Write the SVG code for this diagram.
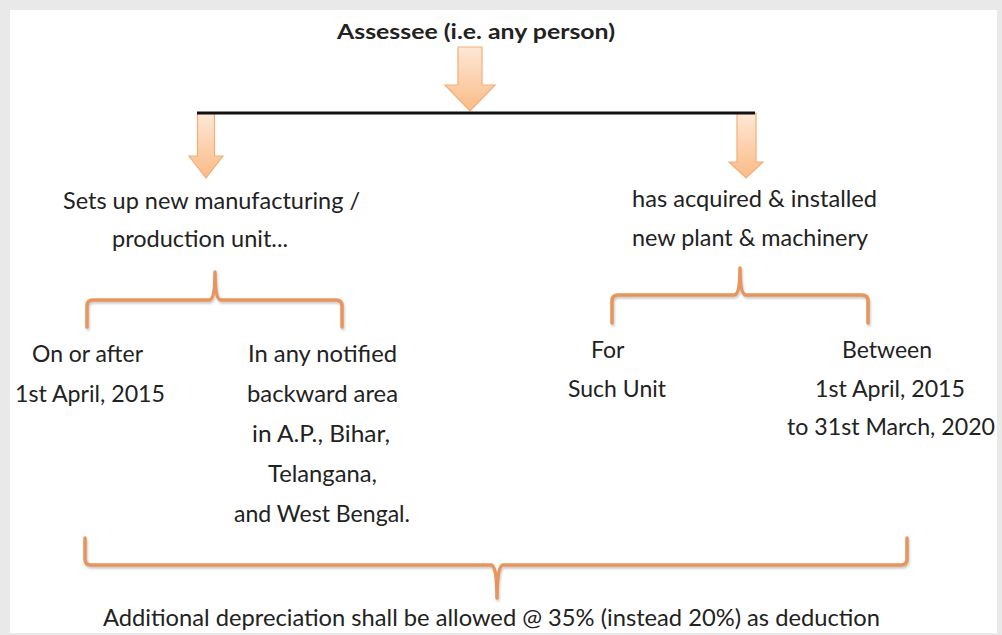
<svg xmlns="http://www.w3.org/2000/svg" width="1002" height="635" viewBox="0 0 1002 635">
<style>
  .t { font-family: Lato, "Open Sans", "Liberation Sans", sans-serif; font-size: 23px; fill: #222222; }
  .b { font-weight: bold; font-size: 20px; }
  .brace { fill: none; stroke: #e8955c; stroke-width: 3.5; stroke-linecap: round; stroke-linejoin: round; filter: url(#sh); }
  .arrow { fill: url(#ag); stroke: #f3ad78; stroke-width: 1.2; }
</style>
<defs>
  <linearGradient id="ag" x1="0" y1="0" x2="0" y2="1">
    <stop offset="0" stop-color="#fde8d6"/>
    <stop offset="1" stop-color="#fbbb86"/>
  </linearGradient>
  <filter id="sh" x="-5%" y="-30%" width="110%" height="160%">
    <feDropShadow dx="1" dy="2" stdDeviation="1.2" flood-color="#8a8a8a" flood-opacity="0.45"/>
  </filter>
</defs>
<rect x="0" y="0" width="1002" height="635" fill="#e9e9e9"/>
<rect x="10" y="10" width="987" height="623" fill="#ffffff"/>

<g id="connectors">
  <path class="arrow" d="M458,47 L482,47 L482,85 L495,85 L470,111 L445,85 L458,85 Z"/>
  <path class="arrow" d="M197.5,113 L214.5,113 L214.5,156 L223,156 L206,178 L189,156 L197.5,156 Z"/>
  <path class="arrow" d="M737,113 L756,113 L756,162 L763,162 L746,178 L729,162 L737,162 Z"/>
  <line x1="197" y1="113" x2="755" y2="113" stroke="#111" stroke-width="3"/>
  <path class="brace" d="M87,327 L87,306 Q87,300 93,300 L209,300 Q215,300 215,272 Q215,300 221,300 L336,300 Q342,300 342,306 L342,327"/>
  <path class="brace" d="M612,323 L612,301 Q612,295 618,295 L734,295 Q740,295 740,268 Q740,295 746,295 L862,295 Q868,295 868,301 L868,323"/>
  <path class="brace" d="M85,538 L85,559 Q85,565 91,565 L491,565 Q497,565 497,598 Q497,565 503,565 L901,565 Q907,565 907,559 L907,538"/>
</g>

<g id="assessee">
  <text class="t b" x="337" y="39" textLength="278" lengthAdjust="spacingAndGlyphs">Assessee (i.e. any person)</text>
</g>
<g id="new-unit">
  <text class="t" x="63" y="209" textLength="297" lengthAdjust="spacingAndGlyphs">Sets up new manufacturing /</text>
  <text class="t" x="112" y="247" textLength="176" lengthAdjust="spacingAndGlyphs">production unit...</text>
</g>
<g id="plant-machinery">
  <text class="t" x="632" y="207" textLength="245" lengthAdjust="spacingAndGlyphs">has acquired &amp; installed</text>
  <text class="t" x="632" y="246" textLength="236" lengthAdjust="spacingAndGlyphs">new plant &amp; machinery</text>
</g>
<g id="on-or-after">
  <text class="t" x="32" y="362" textLength="111" lengthAdjust="spacingAndGlyphs">On or after</text>
  <text class="t" x="15" y="402" textLength="150" lengthAdjust="spacingAndGlyphs">1st April, 2015</text>
</g>
<g id="backward-area">
  <text class="t" x="248" y="362" textLength="149" lengthAdjust="spacingAndGlyphs">In any notified</text>
  <text class="t" x="247" y="402" textLength="151" lengthAdjust="spacingAndGlyphs">backward area</text>
  <text class="t" x="252" y="442" textLength="138" lengthAdjust="spacingAndGlyphs">in A.P., Bihar,</text>
  <text class="t" x="268" y="482" textLength="109" lengthAdjust="spacingAndGlyphs">Telangana,</text>
  <text class="t" x="234" y="522" textLength="176" lengthAdjust="spacingAndGlyphs">and West Bengal.</text>
</g>
<g id="such-unit">
  <text class="t" x="591" y="358">For</text>
  <text class="t" x="568" y="397" textLength="98" lengthAdjust="spacingAndGlyphs">Such Unit</text>
</g>
<g id="between">
  <text class="t" x="842" y="358" textLength="90" lengthAdjust="spacingAndGlyphs">Between</text>
  <text class="t" x="815" y="397" textLength="150" lengthAdjust="spacingAndGlyphs">1st April, 2015</text>
  <text class="t" x="787" y="435" textLength="208" lengthAdjust="spacingAndGlyphs">to 31st March, 2020</text>
</g>
<g id="result">
  <text class="t" x="103" y="626" textLength="777" lengthAdjust="spacingAndGlyphs">Additional depreciation shall be allowed @ 35% (instead 20%) as deduction</text>
</g>
</svg>
